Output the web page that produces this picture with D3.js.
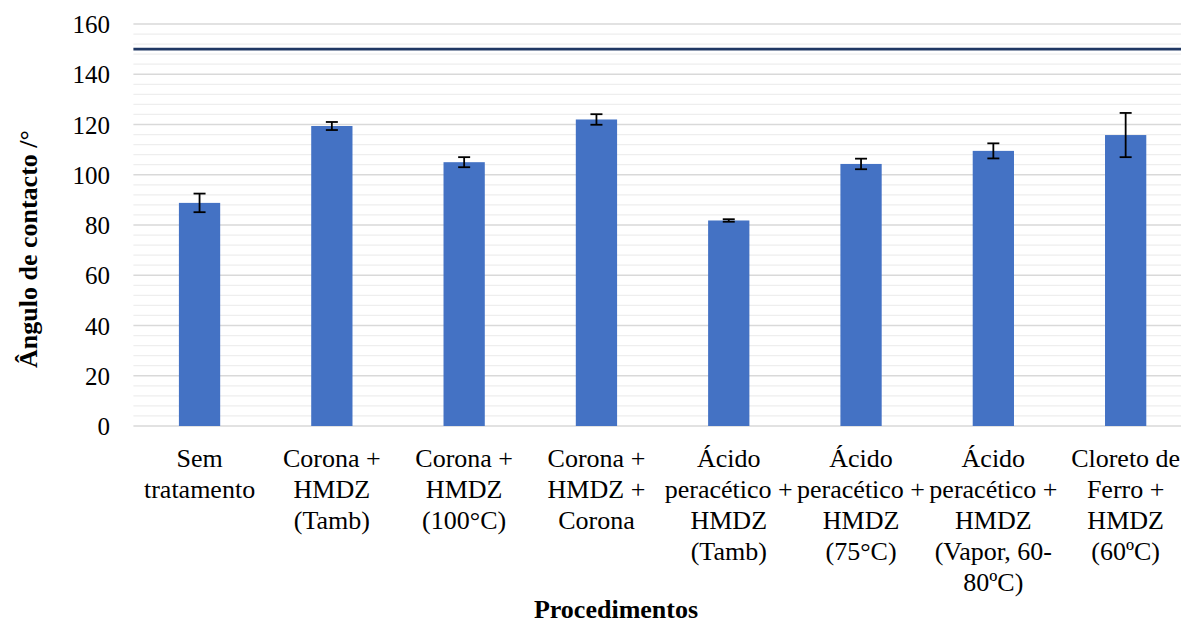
<!DOCTYPE html>
<html>
<head>
<meta charset="utf-8">
<script src="https://cdn.jsdelivr.net/npm/d3@7"></script>
<style>
  html, body { margin: 0; padding: 0; background: #fff; }
  svg { display: block; }
  text { font-family: "Liberation Serif", "Times New Roman", serif; fill: #000; }
</style>
</head>
<body>
<svg id="chart" width="1181" height="625"></svg>
<script>
// ---- data ----
const categories = [
  "Sem tratamento",
  "Corona + HMDZ (Tamb)",
  "Corona + HMDZ (100°C)",
  "Corona + HMDZ + Corona",
  "Ácido peracético + HMDZ (Tamb)",
  "Ácido peracético + HMDZ (75°C)",
  "Ácido peracético + HMDZ (Vapor, 60-80ºC)",
  "Cloreto de Ferro + HMDZ (60ºC)"
];
const categoryLines = [
  ["Sem", "tratamento"],
  ["Corona +", "HMDZ", "(Tamb)"],
  ["Corona +", "HMDZ", "(100°C)"],
  ["Corona +", "HMDZ +", "Corona"],
  ["Ácido", "peracético +", "HMDZ", "(Tamb)"],
  ["Ácido", "peracético +", "HMDZ", "(75°C)"],
  ["Ácido", "peracético +", "HMDZ", "(Vapor, 60-", "80ºC)"],
  ["Cloreto de", "Ferro +", "HMDZ", "(60ºC)"]
];
const values = [88.8, 119.4, 105.0, 122.0, 81.8, 104.3, 109.5, 115.8];
const errors = [3.7, 1.6, 2.0, 2.1, 0.5, 2.1, 3.0, 8.8];
const yTicks = [0, 20, 40, 60, 80, 100, 120, 140, 160];
const referenceValue = 150;
const yTitle = "Ângulo de contacto /°";
const xTitle = "Procedimentos";

// ---- layout ----
const svg = d3.select("#chart");
const plot = { left: 133.4, right: 1191.8, top: 24, bottom: 426 };

const x = d3.scaleBand()
  .domain(categories)
  .range([plot.left, plot.right])
  .paddingInner(0.688)
  .paddingOuter(0.344);

const y = d3.scaleLinear().domain([0, 160]).range([plot.bottom, plot.top]);

// minor gridlines (every 4)
const minor = d3.range(0, 161, 4).filter(v => v % 20 !== 0);
svg.append("g").selectAll("line").data(minor).join("line")
  .attr("x1", plot.left).attr("x2", plot.right)
  .attr("y1", d => y(d)).attr("y2", d => y(d))
  .attr("stroke", "#eeeeee").attr("stroke-width", 1.3);

// major gridlines
svg.append("g").selectAll("line").data(yTicks).join("line")
  .attr("x1", plot.left).attr("x2", plot.right)
  .attr("y1", d => y(d)).attr("y2", d => y(d))
  .attr("stroke", "#d9d9d9").attr("stroke-width", 1.4);

// y axis tick labels
const yAxis = d3.axisLeft(y).tickValues(yTicks).tickSize(0).tickPadding(0);
const gy = svg.append("g").attr("transform", `translate(110,0)`).call(yAxis);
gy.select(".domain").remove();
gy.selectAll("text")
  .style("font-family", '"Liberation Serif", "Times New Roman", serif')
  .style("font-size", "25px").attr("fill", "#000").attr("dy", "0.34em");

// bars
svg.append("g").selectAll("rect").data(categories).join("rect")
  .attr("x", d => x(d))
  .attr("width", x.bandwidth())
  .attr("y", (d, i) => y(values[i]))
  .attr("height", (d, i) => y(0) - y(values[i]))
  .attr("fill", "#4472c4");

// error bars
const eg = svg.append("g").attr("stroke", "#000").attr("stroke-width", 1.8);
categories.forEach((c, i) => {
  const cx = x(c) + x.bandwidth() / 2;
  const hi = y(values[i] + errors[i]), lo = y(values[i] - errors[i]);
  eg.append("line").attr("x1", cx).attr("x2", cx).attr("y1", hi).attr("y2", lo);
  eg.append("line").attr("x1", cx - 6).attr("x2", cx + 6).attr("y1", hi).attr("y2", hi);
  eg.append("line").attr("x1", cx - 6).attr("x2", cx + 6).attr("y1", lo).attr("y2", lo);
});

// reference line at 150
svg.append("line")
  .attr("x1", plot.left).attr("x2", plot.right)
  .attr("y1", y(referenceValue)).attr("y2", y(referenceValue))
  .attr("stroke", "#203864").attr("stroke-width", 2.6);

// category labels
const lab = svg.append("g");
categories.forEach((c, i) => {
  const cx = x(c) + x.bandwidth() / 2;
  const t = lab.append("text")
    .attr("text-anchor", "middle")
    .style("font-size", "26px");
  categoryLines[i].forEach((ln, j) => {
    t.append("tspan").attr("x", cx).attr("y", 467 + j * 31).text(ln);
  });
});

// axis titles
svg.append("text")
  .attr("x", 616).attr("y", 618)
  .attr("text-anchor", "middle")
  .style("font-size", "26px").style("font-weight", "bold")
  .text(xTitle);

svg.append("text")
  .attr("transform", "translate(37,249) rotate(-90)")
  .attr("text-anchor", "middle")
  .style("font-size", "26px").style("font-weight", "bold")
  .text(yTitle);
</script>
</body>
</html>
